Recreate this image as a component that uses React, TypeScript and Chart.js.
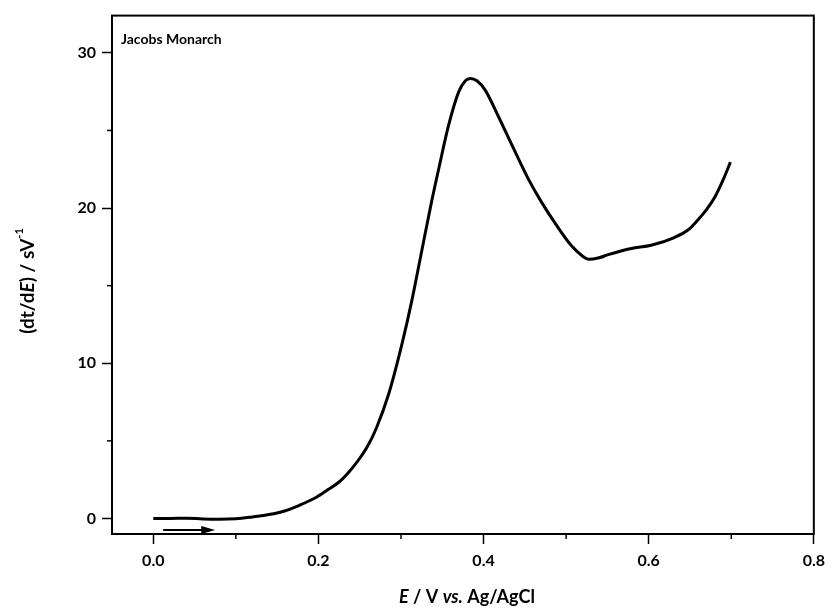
import React, { useEffect, useRef } from "react";
import { Chart, registerables } from "chart.js";

Chart.register(...registerables);

// Potential E (V vs. Ag/AgCl)
const potentials = [
  0, 0.02, 0.04, 0.06, 0.08, 0.1, 0.12, 0.14, 0.16, 0.177, 0.197, 0.21, 0.225, 0.237, 0.249,
  0.26, 0.27, 0.285, 0.301, 0.313, 0.325, 0.337, 0.346, 0.358, 0.37, 0.378, 0.384, 0.392,
  0.402, 0.418, 0.434, 0.454, 0.47, 0.487, 0.506, 0.52, 0.527, 0.54, 0.551, 0.579, 0.603,
  0.631, 0.648, 0.659, 0.67, 0.68, 0.69, 0.699,
];
// dt/dE (s V^-1)
const dtdE = [
  0, 0.0, 0.02, -0.03, -0.05, -0.02, 0.1, 0.25, 0.5, 0.85, 1.35, 1.8, 2.35, 3.0, 3.8,
  4.7, 5.8, 8.0, 11.2, 14.0, 17.2, 20.4, 22.6, 25.4, 27.5, 28.2, 28.35, 28.2,
  27.6, 25.9, 24.1, 21.9, 20.4, 19.0, 17.6, 16.9, 16.7, 16.8, 17.0, 17.4, 17.6,
  18.1, 18.6, 19.2, 19.9, 20.7, 21.8, 22.96,
];

const xMajorTicks = [0, 0.2, 0.4, 0.6, 0.8];
const xMinorTicks = [0.1, 0.3, 0.5, 0.7];
const yMajorTicks = [0, 10, 20, 30];
const yMinorTicks = [5, 15, 25];

const annotationLabel = "Jacobs Monarch";
const arrowStart = [0.012, -0.75];
const arrowEnd = [0.075, -0.75];

const FONT = "Lato, 'Open Sans', sans-serif";

type Seg = { t: string; italic?: boolean; sup?: boolean };

function drawSegments(ctx: CanvasRenderingContext2D, segs: Seg[], size: number) {
  const fontFor = (s: Seg) =>
    `${s.italic ? "italic " : ""}bold ${s.sup ? Math.round(size * 0.6) : size}px ${FONT}`;
  let total = 0;
  const widths = segs.map((s) => {
    ctx.font = fontFor(s);
    const w = ctx.measureText(s.t).width;
    total += w;
    return w;
  });
  let x = -total / 2;
  ctx.textBaseline = "middle";
  ctx.textAlign = "left";
  segs.forEach((s, i) => {
    ctx.font = fontFor(s);
    ctx.fillText(s.t, x, s.sup ? -size * 0.45 : 0);
    x += widths[i];
  });
}

const decorPlugin = {
  id: "decor",
  afterDraw(chart: any) {
    const { ctx, chartArea, scales } = chart;
    const xs = scales.x;
    const ys = scales.y;
    ctx.save();
    ctx.strokeStyle = "#000";
    ctx.fillStyle = "#000";
    // frame
    ctx.lineWidth = 2;
    ctx.strokeRect(chartArea.left, chartArea.top, chartArea.right - chartArea.left, chartArea.bottom - chartArea.top);
    // minor ticks
    ctx.lineWidth = 1.5;
    xMinorTicks.forEach((v) => {
      const px = xs.getPixelForValue(v);
      ctx.beginPath();
      ctx.moveTo(px, chartArea.bottom);
      ctx.lineTo(px, chartArea.bottom + 5);
      ctx.stroke();
    });
    yMinorTicks.forEach((v) => {
      const py = ys.getPixelForValue(v);
      ctx.beginPath();
      ctx.moveTo(chartArea.left, py);
      ctx.lineTo(chartArea.left - 5, py);
      ctx.stroke();
    });
    // arrow
    const ax0 = xs.getPixelForValue(arrowStart[0]);
    const ax1 = xs.getPixelForValue(arrowEnd[0]);
    const ay = ys.getPixelForValue(arrowStart[1]);
    ctx.lineWidth = 2;
    ctx.beginPath();
    ctx.moveTo(ax0, ay);
    ctx.lineTo(ax1 - 10, ay);
    ctx.stroke();
    ctx.beginPath();
    ctx.moveTo(ax1, ay);
    ctx.lineTo(ax1 - 14, ay - 4);
    ctx.lineTo(ax1 - 14, ay + 4);
    ctx.closePath();
    ctx.fill();
    // label inside plot
    ctx.font = `bold 14px ${FONT}`;
    ctx.textAlign = "left";
    ctx.textBaseline = "middle";
    ctx.fillText(annotationLabel, chartArea.left + 9, chartArea.top + 24);
    // x title
    ctx.save();
    ctx.translate((chartArea.left + chartArea.right) / 2 + 4, 597);
    drawSegments(ctx, [
      { t: "E", italic: true },
      { t: " / V " },
      { t: "vs.", italic: true },
      { t: " Ag/AgCl" },
    ], 18);
    ctx.restore();
    // y title
    ctx.save();
    ctx.translate(28, 281);
    ctx.rotate(-Math.PI / 2);
    drawSegments(ctx, [
      { t: "(dt/d" },
      { t: "E", italic: true },
      { t: ") / sV" },
      { t: "-1", sup: true },
    ], 19);
    ctx.restore();
    ctx.restore();
  },
};

export default function App() {
  const ref = useRef<HTMLCanvasElement | null>(null);
  useEffect(() => {
    if (!ref.current) return;
    const points = potentials.map((x, i) => ({ x, y: dtdE[i] }));
    const chart = new Chart(ref.current, {
      type: "line",
      data: {
        datasets: [
          {
            data: points,
            borderColor: "#000",
            borderWidth: 3,
            pointRadius: 0,
            tension: 0.3,
            cubicInterpolationMode: "monotone",
            fill: false,
          },
        ],
      },
      options: {
        animation: false,
        responsive: false,
        devicePixelRatio: 1,
        layout: { padding: { left: 0, top: 15, right: 15, bottom: 0 } },
        plugins: { legend: { display: false }, tooltip: { enabled: false } },
        scales: {
          x: {
            type: "linear",
            min: -0.05,
            max: 0.8,
            afterBuildTicks: (s: any) => {
              s.ticks = xMajorTicks.map((value) => ({ value }));
            },
            afterFit: (s: any) => {
              s.height = 81;
            },
            grid: {
              drawOnChartArea: false,
              drawTicks: true,
              tickLength: 10,
              tickWidth: 1.5,
              tickColor: "#000",
            },
            border: { display: true, color: "#000", width: 2 },
            ticks: {
              color: "#000",
              padding: 7,
              maxRotation: 0,
              font: { family: FONT, size: 16, weight: "bold" },
              callback: (v: any) => Number(v).toFixed(1),
            },
          },
          y: {
            type: "linear",
            min: -1,
            max: 32.4,
            afterBuildTicks: (s: any) => {
              s.ticks = yMajorTicks.map((value) => ({ value }));
            },
            afterFit: (s: any) => {
              s.width = 112;
            },
            grid: {
              drawOnChartArea: false,
              drawTicks: true,
              tickLength: 10,
              tickWidth: 1.5,
              tickColor: "#000",
            },
            border: { display: true, color: "#000", width: 2 },
            ticks: {
              color: "#000",
              padding: 6,
              font: { family: FONT, size: 16, weight: "bold" },
              callback: (v: any) => String(v),
            },
          },
        },
      },
      plugins: [decorPlugin],
    } as any);
    return () => chart.destroy();
  }, []);
  return (
    <div style={{ position: "absolute", left: 0, top: 0, width: 832, height: 615, background: "#fff" }}>
      <canvas ref={ref} width={832} height={615} style={{ width: 832, height: 615, display: "block" }} />
    </div>
  );
}
